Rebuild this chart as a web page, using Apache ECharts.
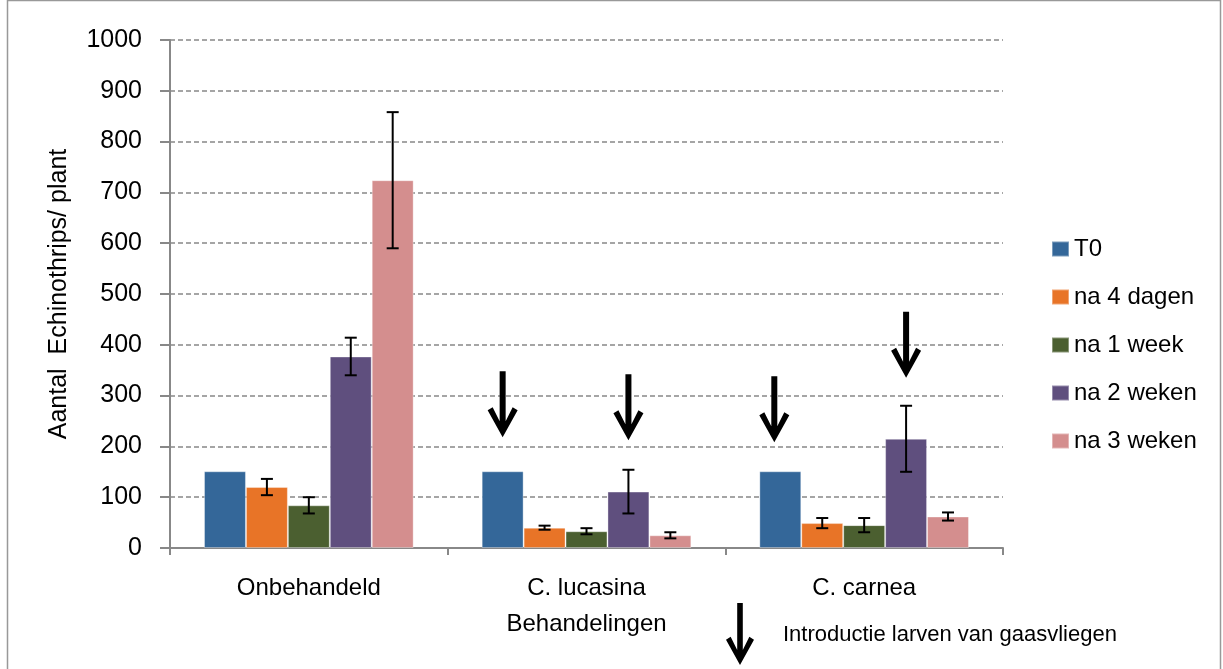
<!DOCTYPE html>
<html><head><meta charset="utf-8">
<script src="https://cdn.jsdelivr.net/npm/echarts@6/dist/echarts.min.js"></script>
<style>html,body{margin:0;padding:0;background:#fff}#c{width:1223px;height:669px}</style>
</head><body><div id="c"></div>
<script>
const categories = ['Onbehandeld', 'C. lucasina', 'C. carnea'];
const seriesNames = ['T0', 'na 4 dagen', 'na 1 week', 'na 2 weken', 'na 3 weken'];
const t0 = [151, 151, 151];
const na4dagen = [120, 40, 49];
const na1week = [84, 33, 45];
const na2weken = [377, 111, 215];
const na3weken = [724, 25, 62];
const t0Err = [0, 0, 0];
const na4dagenErr = [16, 4, 10];
const na1weekErr = [16, 6, 14];
const na2wekenErr = [37, 43, 65];
const na3wekenErr = [134, 6, 8];
const yTicks = [0, 100, 200, 300, 400, 500, 600, 700, 800, 900, 1000];
// arrows marking introduction of lacewing larvae: [series index, category index, value of arrow tip]
const arrowTips = [[0, 1, 218], [3, 1, 212], [0, 2, 208], [3, 2, 335]];
const legendNote = 'Introductie larven van gaasvliegen';

const values = [t0, na4dagen, na1week, na2weken, na3weken];
const errors = [t0Err, na4dagenErr, na1weekErr, na2wekenErr, na3wekenErr];
const colors = ['#346799', '#E87427', '#4B5F30', '#5F4F7E', '#D48E8E'];
const arrowPts = [[12,0],[18,0],[18,50],[25,36],[30,39],[15,66],[0,39],[5,36],[12,50]];
const arrowPath = 'path://M' + arrowPts.map(p => p.join(' ')).join(' L') + ' Z';
const catGap = 0.245;
const font = 'Liberation Sans, Arial, sans-serif';

const chart = echarts.init(document.getElementById('c'));
const series = [];
values.forEach((vals, i) => {
  const s = {
    name: seriesNames[i], type: 'bar', data: vals, barGap: '0%', barCategoryGap: (catGap * 100) + '%',
    itemStyle: { color: colors[i], borderColor: 'rgba(255,255,255,0.35)', borderWidth: 1 },
    emphasis: { disabled: true }, z: 2
  };
  const marks = arrowTips.filter(a => a[0] === i).map(a => ({ coord: [a[1], a[2]], symbolOffset: [a[1] === 2 && i === 0 ? -6 : 0, '-50%'] }));
  if (marks.length) {
    s.markPoint = { symbol: arrowPath, symbolSize: [30, 66], silent: true, label: { show: false },
      itemStyle: { color: '#000' }, data: marks };
  }
  series.push(s);
});
errors.forEach((errs, i) => {
  series.push({
    type: 'custom', name: seriesNames[i] + ' err', z: 5, silent: true,
    data: values[i].map((v, k) => [k, v, errs[k]]),
    renderItem: function (params, api) {
      const k = api.value(0), v = api.value(1), e = api.value(2);
      if (!e) return null;
      const catW = api.size([1, 0])[0];
      const barW = catW * (1 - catGap) / values.length;
      const off = (i - (values.length - 1) / 2) * barW;
      const hi = api.coord([k, v + e]), lo = api.coord([k, v - e]);
      const x = hi[0] + off, cap = 6;
      const st = { stroke: '#000', lineWidth: 2 };
      return { type: 'group', children: [
        { type: 'line', shape: { x1: x, y1: hi[1], x2: x, y2: lo[1] }, style: st },
        { type: 'line', shape: { x1: x - cap, y1: hi[1], x2: x + cap, y2: hi[1] }, style: st },
        { type: 'line', shape: { x1: x - cap, y1: lo[1], x2: x + cap, y2: lo[1] }, style: st }
      ] };
    }
  });
});

chart.setOption({
  animation: false,
  textStyle: { fontFamily: font },
  grid: { left: 170, right: 220, top: 40, bottom: 121 },
  legend: {
    data: seriesNames, orient: 'vertical', left: 1046, top: 232,
    itemWidth: 17, itemHeight: 15, itemGap: 24, icon: 'rect',
    textStyle: { fontSize: 24, color: '#000', fontFamily: font }
  },
  xAxis: {
    type: 'category', data: categories,
    name: 'Behandelingen', nameLocation: 'middle', nameGap: 64,
    nameTextStyle: { fontSize: 24, color: '#000' },
    axisLine: { lineStyle: { color: '#888', width: 2 } },
    axisTick: { show: true, length: 7, lineStyle: { color: '#888', width: 2 } },
    axisLabel: { fontSize: 24, color: '#000', margin: 28 }
  },
  yAxis: {
    type: 'value', min: 0, max: 1000, interval: 100,
    name: 'Aantal  Echinothrips/ plant', nameLocation: 'middle', nameGap: 98,
    nameTextStyle: { fontSize: 25, color: '#000' },
    axisLine: { show: true, lineStyle: { color: '#888', width: 2 } },
    axisTick: { show: true, length: 10, lineStyle: { color: '#888', width: 2 } },
    axisLabel: { fontSize: 25, color: '#000', margin: 28,
      formatter: v => yTicks.includes(v) ? String(v) : '' },
    splitLine: { lineStyle: { color: '#888', type: [5, 3], width: 1.5 } }
  },
  graphic: [
    { type: 'rect', shape: { x: 7.5, y: 0.5, width: 1213, height: 700 }, style: { fill: 'none', stroke: '#999', lineWidth: 1.5 }, silent: true },
    { type: 'polygon', x: 726, y: 603, scaleX: 28 / 30, scaleY: 62 / 66, shape: { points: arrowPts }, style: { fill: '#000' }, silent: true },
    { type: 'text', left: 783, top: 624, style: { text: legendNote, fontSize: 22, fill: '#000', fontFamily: font } }
  ],
  series: series
});
</script></body></html>
